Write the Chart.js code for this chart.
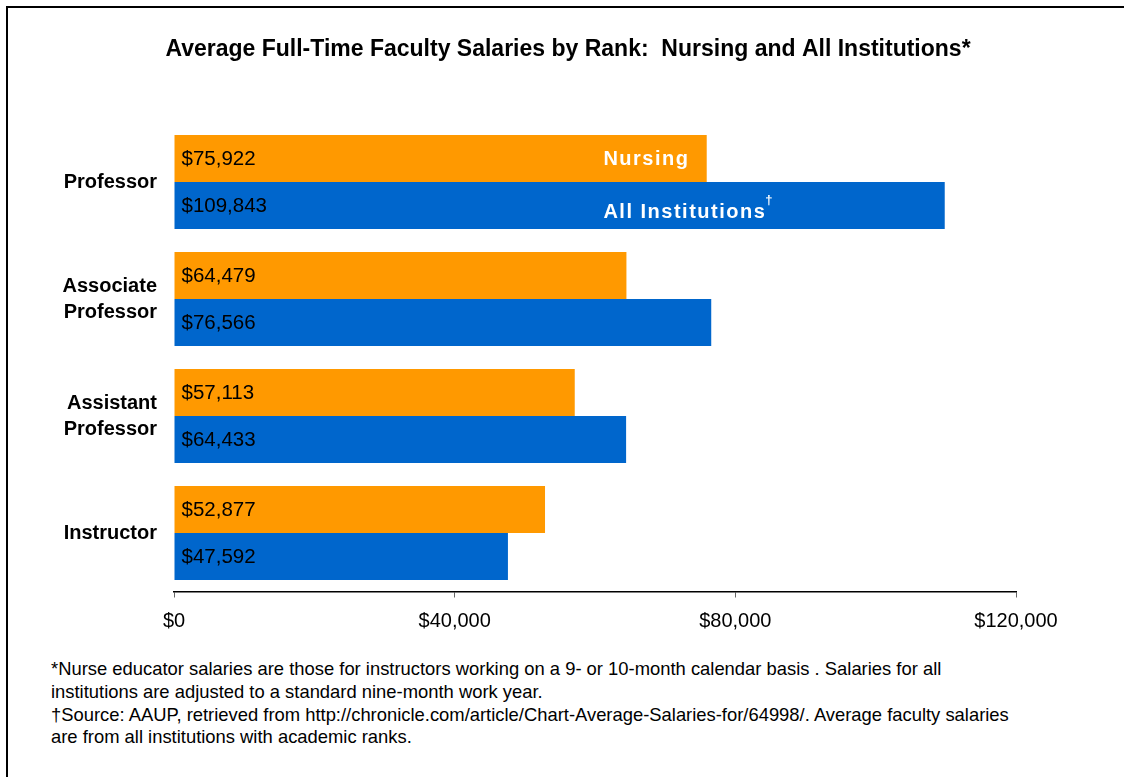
<!DOCTYPE html>
<html>
<head>
<meta charset="utf-8">
<script src="https://cdn.jsdelivr.net/npm/chart.js@4/dist/chart.umd.min.js"></script>
<style>
  body { margin: 0; background: #fff; font-family: "Liberation Sans", Arial, sans-serif; }
  #frame { position: absolute; left: 6px; top: 6px; width: 1140px; height: 800px; border: 2px solid #000; }
  #wrap { position: absolute; left: 0; top: 0; width: 1124px; height: 640px; }
  #notes { position: absolute; left: 51px; top: 658px; font-size: 18.4px; color: #000; line-height: 22.8px; white-space: nowrap; }
  #notes p { margin: 0; }
</style>
</head>
<body>
<div id="frame"></div>
<div id="wrap"><canvas id="bar_chart"></canvas></div>
<div id="notes">
  <p>*Nurse educator salaries are those for instructors working on a 9- or 10-month calendar basis . Salaries for all<br>institutions are adjusted to a standard nine-month work year.</p>
  <p>†Source: AAUP, retrieved from http://chronicle.com/article/Chart-Average-Salaries-for/64998/. Average faculty salaries<br>are from all institutions with academic ranks.</p>
</div>
<script>
// Chart data
const categories = ['Professor', ['Associate', 'Professor'], ['Assistant', 'Professor'], 'Instructor'];
const nursing = [75922, 64479, 57113, 52877];
const allInstitutions = [109843, 76566, 64433, 47592];
const seriesNames = ['Nursing', 'All Institutions'];
const xTicks = [0, 40000, 80000, 120000];
const chartTitle = 'Average Full-Time Faculty Salaries by Rank:  Nursing and All Institutions*';

const FONT = '"Liberation Sans", Arial, sans-serif';

function money(v) {
    return '$' + v.toLocaleString('en-US');
}

// title centred on the framed page, not on the padded chart box
const pageTitle = {
    id: 'pageTitle',
    afterDraw(chart) {
        const ctx = chart.ctx;
        ctx.save();
        ctx.font = 'bold 23px ' + FONT;
        ctx.fillStyle = '#000';
        ctx.textAlign = 'center';
        ctx.textBaseline = 'middle';
        ctx.fillText(chartTitle, chart.width / 2 + 6, 50);
        ctx.restore();
    }
};

// draws the value inside each bar and the series names on the first group
const barLabels = {
    id: 'barLabels',
    afterDatasetsDraw(chart) {
        const ctx = chart.ctx;
        const xs = chart.scales.x;
        ctx.save();
        chart.data.datasets.forEach((ds, i) => {
            const meta = chart.getDatasetMeta(i);
            meta.data.forEach((bar, j) => {
                ctx.font = '20.5px ' + FONT;
                ctx.fillStyle = '#000';
                ctx.textAlign = 'left';
                ctx.textBaseline = 'middle';
                ctx.fillText(money(ds.data[j]), bar.base + 7, bar.y + 1);
            });
            // series name on the Professor bar
            const first = meta.data[0];
            const nx = xs.getPixelForValue(61200);
            ctx.font = 'bold 20px ' + FONT;
            ctx.fillStyle = '#fff';
            ctx.letterSpacing = '1.5px';
            ctx.textBaseline = 'middle';
            const ny = i === 0 ? first.y + 1 : first.y + 7;
            ctx.fillText(ds.label, nx, ny);
            if (i === 1) {
                const w = ctx.measureText(ds.label).width;
                ctx.font = 'bold 13px ' + FONT;
                ctx.fillText('†', nx + w - 1, ny - 12);
            }
            ctx.letterSpacing = '0px';
        });
        ctx.restore();
    }
};

const bar_chart = document.getElementById('bar_chart');
new Chart(bar_chart, {
    type: 'bar',
    data: {
        labels: categories,
        datasets: [{
            label: seriesNames[0],
            data: nursing,
            backgroundColor: '#FF9900',
            categoryPercentage: 0.8034,
            barPercentage: 1
        }, {
            label: seriesNames[1],
            data: allInstitutions,
            backgroundColor: '#0066CC',
            categoryPercentage: 0.8034,
            barPercentage: 1
        }]
    },
    options: {
        indexAxis: 'y',
        responsive: true,
        maintainAspectRatio: false,
        animation: false,
        layout: { padding: { left: 0, right: 108, top: 123.5, bottom: 0 } },
        plugins: {
            legend: { display: false },
            tooltip: { enabled: false },
            title: { display: false }
        },
        scales: {
            x: {
                min: 0,
                max: 120000,
                afterBuildTicks: s => { s.ticks = xTicks.map(v => ({ value: v })); },
                afterFit: s => { s.height = 48.5; },
                ticks: {
                    color: '#000',
                    font: { family: FONT, size: 20 },
                    padding: 12,
                    maxRotation: 0,
                    callback: v => money(v)
                },
                grid: { drawOnChartArea: false, drawTicks: true, tickLength: 6, color: '#666' },
                border: { color: '#000', width: 1.5 }
            },
            y: {
                afterFit: s => { s.width = 174; },
                ticks: {
                    color: '#000',
                    font: { family: FONT, size: 20, weight: 'bold', lineHeight: 1.3 },
                    padding: 17
                },
                grid: { display: false, drawTicks: false },
                border: { display: false }
            }
        }
    },
    plugins: [barLabels, pageTitle]
});
</script>
</body>
</html>
